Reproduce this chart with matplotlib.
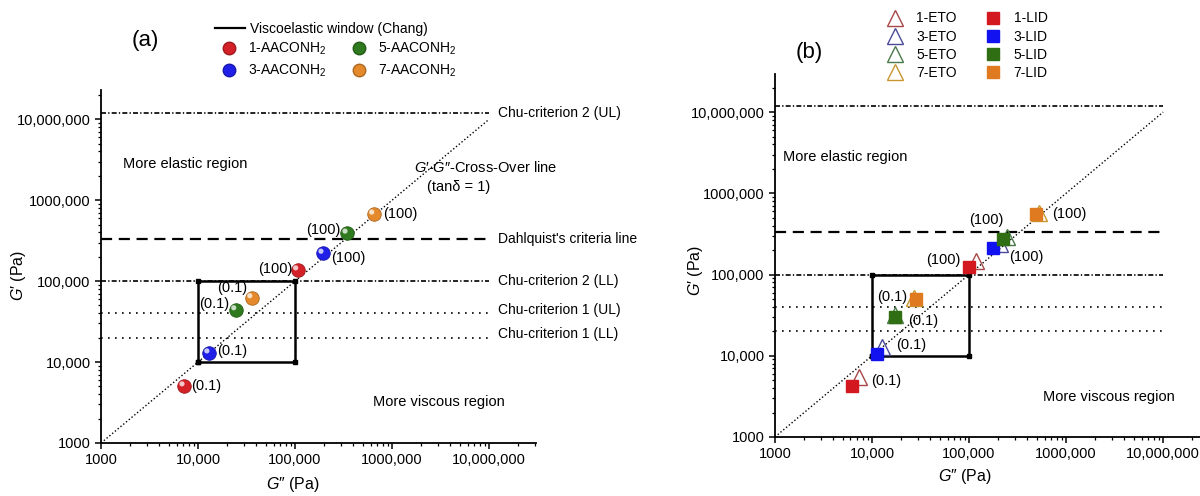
import matplotlib
matplotlib.use("Agg")
import matplotlib.pyplot as plt
from matplotlib.lines import Line2D
from matplotlib.ticker import FuncFormatter, LogLocator, NullFormatter
import matplotlib.transforms as mtransforms
import matplotlib.colors as mc

plt.rcParams['font.family'] = ['Liberation Sans', 'DejaVu Sans']
plt.rcParams['mathtext.fontset'] = 'custom'
plt.rcParams['mathtext.rm'] = 'Liberation Sans'
plt.rcParams['mathtext.it'] = 'Liberation Sans:italic'
plt.rcParams['mathtext.bf'] = 'Liberation Sans:bold'

# ---------------- data ----------------
# panel (a): AACONH2 samples at 0.1 and 100 (rad/s)
a_labels = ['1-AACONH$_2$', '3-AACONH$_2$', '5-AACONH$_2$', '7-AACONH$_2$']
a_colors = ['#d42027', '#1f1fe8', '#2f7a1f', '#e58a2c']
a_Gpp_low = [7200, 13000, 24600, 36000]
a_Gp_low = [5050, 12900, 44000, 62000]
a_Gpp_high = [107000, 195000, 345000, 650000]
a_Gp_high = [137000, 220000, 390000, 670000]

# panel (b): ETO (triangles) and LID (squares)
b_eto_labels = ['1-ETO', '3-ETO', '5-ETO', '7-ETO']
b_lid_labels = ['1-LID', '3-LID', '5-LID', '7-LID']
b_eto_colors = ['#a84848', '#4a4a98', '#4a7a4a', '#c8962e']
b_lid_colors = ['#d4181f', '#1212f0', '#2f6e12', '#e07a20']
b_eto_Gpp_low = [7300, 12700, 17200, 27000]
b_eto_Gp_low = [5500, 12900, 31500, 52000]
b_lid_Gpp_low = [6200, 11300, 17300, 28500]
b_lid_Gp_low = [4300, 10600, 30000, 50500]
b_eto_Gpp_high = [118000, 210000, 245000, 520000]
b_eto_Gp_high = [145000, 235000, 290000, 580000]
b_lid_Gpp_high = [100000, 177000, 225000, 490000]
b_lid_Gp_high = [125000, 210000, 270000, 550000]

# criteria lines (G', Pa)
crit_values = [1.2e7, 3.3e5, 1.0e5, 4.0e4, 2.0e4]
crit_names = ['Chu-criterion 2 (UL)', "Dahlquist's criteria line",
              'Chu-criterion 2 (LL)', 'Chu-criterion 1 (UL)', 'Chu-criterion 1 (LL)']
crit_styles = [(0, (3, 1.3, 0.8, 1.3)), (0, (5, 3)), (0, (3, 1.3, 0.8, 1.3)),
               (0, (1, 3.2)), (0, (1, 3.2))]
crit_widths = [1.2, 1.6, 1.2, 1.2, 1.2]
window_x = [1e4, 1e5, 1e5, 1e4, 1e4]
window_y = [1e4, 1e4, 1e5, 1e5, 1e4]
diag = [1e3, 1e7]
line_x = [1e3, 1e7]

tick_vals = [1e3, 1e4, 1e5, 1e6, 1e7]
tick_labels = ['1000', '10,000', '100,000', '1000,000', '10,000,000']

fig = plt.figure(figsize=(12, 4.96), dpi=100)
axA = fig.add_axes([0.0842, 0.1069, 0.3625, 0.7116])
axB = fig.add_axes([0.6458, 0.119, 0.3542, 0.732])


def fmt(v, pos):
    for t, l in zip(tick_vals, tick_labels):
        if abs(v - t) / t < 1e-6:
            return l
    return ''


def style_axis(ax, xmax, ymax, xl, yl):
    ax.set_xscale('log')
    ax.set_yscale('log')
    ax.set_xlim(1e3, xmax)
    ax.set_ylim(1e3, ymax)
    for s in ['top', 'right']:
        ax.spines[s].set_visible(False)
    for s in ['left', 'bottom']:
        ax.spines[s].set_linewidth(1.3)
    ax.xaxis.set_major_locator(LogLocator(base=10, numticks=10))
    ax.yaxis.set_major_locator(LogLocator(base=10, numticks=10))
    ax.xaxis.set_minor_locator(LogLocator(base=10, subs=range(2, 10), numticks=50))
    ax.yaxis.set_minor_locator(LogLocator(base=10, subs=range(2, 10), numticks=50))
    ax.xaxis.set_major_formatter(FuncFormatter(fmt))
    ax.yaxis.set_major_formatter(FuncFormatter(fmt))
    ax.xaxis.set_minor_formatter(NullFormatter())
    ax.yaxis.set_minor_formatter(NullFormatter())
    ax.tick_params(which='major', direction='out', length=4.5, width=1.1,
                   labelsize=10.5, colors='black', pad=3)
    ax.tick_params(which='minor', direction='out', length=2.5, width=0.9)
    ax.set_xlabel(r"$\mathit{G″}$ (Pa)", fontsize=11.5)
    ax.set_ylabel(r"$\mathit{G′}$ (Pa)", fontsize=11.5)
    ax.xaxis.label.set_va('center')
    ax.yaxis.label.set_va('center')
    ax.xaxis.set_label_coords(*xl)
    ax.yaxis.set_label_coords(*yl)


style_axis(axA, 3.05e7, 2.3e7, (0.441, -0.119), (-0.189, 0.476))
style_axis(axB, 2.4e7, 2.95e7, (0.447, -0.110), (-0.186, 0.46))

for ax, show_names in [(axA, True), (axB, False)]:
    ax.plot(diag, diag, color='black', lw=1.0, ls=(0, (1, 1.6)), zorder=2)
    for v, name, ls, lw in zip(crit_values, crit_names, crit_styles, crit_widths):
        ax.plot(line_x, [v, v], color='black', lw=lw, ls=ls, zorder=2)
        if show_names:
            dy = 2.5 if ls == (0, (1, 3.2)) else 0
            ax.annotate(name, xy=(line_x[1], v), xytext=(6.5, dy),
                        textcoords='offset points', ha='left', va='center',
                        fontsize=10)
    ax.plot(window_x, window_y, color='black', lw=1.8, marker='s', ms=3.5, zorder=3)

# ---------- panel a points ----------
hl = mtransforms.offset_copy(axA.transData, fig=fig, x=-1.6, y=1.6, units='points')


def darker(c, f=0.6):
    r, g, b = mc.to_rgb(c)
    return (r * f, g * f, b * f)


for i in range(4):
    xs = [a_Gpp_low[i], a_Gpp_high[i]]
    ys = [a_Gp_low[i], a_Gp_high[i]]
    axA.scatter(xs, ys, s=95, color=a_colors[i], edgecolors=darker(a_colors[i], 0.75),
                linewidths=0.6, zorder=5)
    axA.scatter(xs, ys, s=14, color='white', alpha=0.75, edgecolors='none',
                zorder=6, transform=hl)

a_low_off = [(5, 0, 'left'), (6, 1.5, 'left'), (-4.5, 4.5, 'right'), (-3.5, 7.5, 'right')]
a_high_off = [(-4, 1, 'right'), (6, -3, 'left'), (-5, 2.5, 'right'), (6.5, 0, 'left')]
for i in range(4):
    dx, dy, ha = a_low_off[i]
    axA.annotate('(0.1)', xy=(a_Gpp_low[i], a_Gp_low[i]), xytext=(dx, dy),
                 textcoords='offset points', ha=ha, va='center', fontsize=10.5, zorder=7)
    dx, dy, ha = a_high_off[i]
    axA.annotate('(100)', xy=(a_Gpp_high[i], a_Gp_high[i]), xytext=(dx, dy),
                 textcoords='offset points', ha=ha, va='center', fontsize=10.5, zorder=7)

axA.text(0.05, 0.79, 'More elastic region', transform=axA.transAxes, fontsize=10.5,
         ha='left', va='center')
axA.text(0.625, 0.115, 'More viscous region', transform=axA.transAxes, fontsize=10.5,
         ha='left', va='center')
fig.text(0.345, 0.663, r"$\mathit{G′}$-$\mathit{G″}$-Cross-Over line", fontsize=10.5,
         ha='left', va='center')
fig.text(0.356, 0.622, r"(tanδ = 1)", fontsize=10.5, ha='left', va='center')
fig.text(0.11, 0.918, '(a)', fontsize=16, ha='left', va='center')

# legend a
h_line = [Line2D([0], [0], color='black', lw=1.6)]
legA1 = fig.legend(h_line, ['Viscoelastic window (Chang)'], loc='upper left',
                   bbox_to_anchor=(0.179, 0.956), frameon=False, fontsize=10,
                   handlelength=2.2, handletextpad=0.3, borderpad=0, borderaxespad=0)
h_balls = [Line2D([0], [0], ls='none', marker='o', ms=9, color=c,
                  markeredgecolor=darker(c, 0.75)) for c in a_colors]
legA2 = fig.legend(h_balls, a_labels, loc='upper left', bbox_to_anchor=(0.185, 0.918),
                   ncol=2, frameon=False, fontsize=10, handlelength=1.0,
                   handletextpad=0.9, columnspacing=1.8, labelspacing=0.4,
                   borderpad=0, borderaxespad=0)

# ---------- panel b points ----------
for i in range(4):
    axB.plot([b_eto_Gpp_low[i], b_eto_Gpp_high[i]], [b_eto_Gp_low[i], b_eto_Gp_high[i]],
             ls='none', marker='^', ms=12, markerfacecolor='none',
             markeredgecolor=b_eto_colors[i], markeredgewidth=1.0, zorder=4)
    axB.plot([b_lid_Gpp_low[i], b_lid_Gpp_high[i]], [b_lid_Gp_low[i], b_lid_Gp_high[i]],
             ls='none', marker='s', ms=8, color=b_lid_colors[i], zorder=5)

b_low_off = [(14, 3, 'left'), (13.5, 6.5, 'left'), (9.5, -3, 'left'), (-6.5, 1.5, 'right')]
b_high_off = [(-6.5, 4.5, 'right'), (11.5, -6, 'left'), (0, 14, 'right'), (11.5, 0.5, 'left')]
for i in range(4):
    dx, dy, ha = b_low_off[i]
    axB.annotate('(0.1)', xy=(b_lid_Gpp_low[i], b_lid_Gp_low[i]), xytext=(dx, dy),
                 textcoords='offset points', ha=ha, va='center', fontsize=10.5, zorder=7)
    dx, dy, ha = b_high_off[i]
    axB.annotate('(100)', xy=(b_lid_Gpp_high[i], b_lid_Gp_high[i]), xytext=(dx, dy),
                 textcoords='offset points', ha=ha, va='center', fontsize=10.5, zorder=7)

axB.text(0.02, 0.77, 'More elastic region', transform=axB.transAxes, fontsize=10.5,
         ha='left', va='center')
axB.text(0.63, 0.11, 'More viscous region', transform=axB.transAxes, fontsize=10.5,
         ha='left', va='center')
fig.text(0.663, 0.895, '(b)', fontsize=16, ha='left', va='center')

h_eto = [Line2D([0], [0], ls='none', marker='^', ms=11, markerfacecolor='none',
                markeredgecolor=c, markeredgewidth=1.0) for c in b_eto_colors]
h_lid = [Line2D([0], [0], ls='none', marker='s', ms=8, color=c) for c in b_lid_colors]
legB = fig.legend(h_eto + h_lid, b_eto_labels + b_lid_labels, loc='upper left',
                  bbox_to_anchor=(0.739, 0.977), ncol=2, frameon=False, fontsize=10,
                  handlelength=1.2, handletextpad=0.9, columnspacing=2.0,
                  labelspacing=0.3, borderpad=0, borderaxespad=0)

fig.savefig('out.png', dpi=100)
